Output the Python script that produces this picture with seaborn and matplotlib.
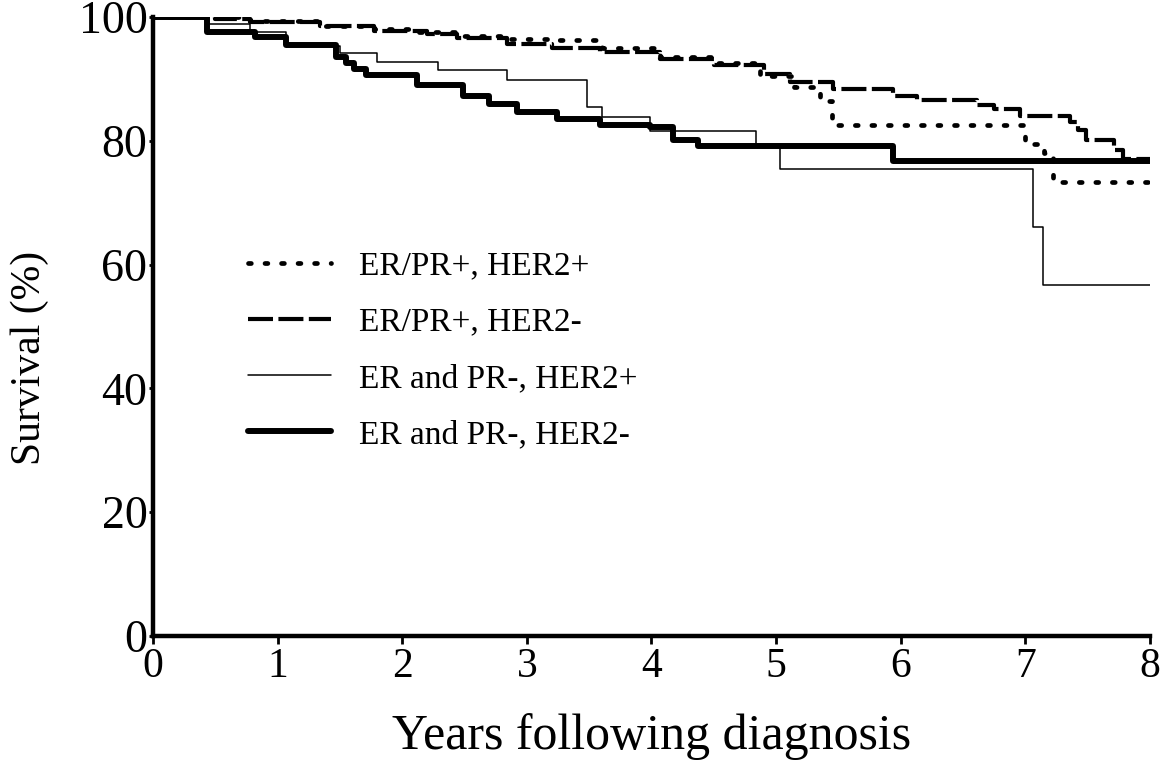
import numpy as np
import pandas as pd
import matplotlib
matplotlib.use("Agg")
import matplotlib.pyplot as plt
import seaborn as sns

# ---- data (Kaplan-Meier step values) ----
labels = ["ER/PR+, HER2+", "ER/PR+, HER2-", "ER and PR-, HER2+", "ER and PR-, HER2-"]

t_pp = [0, 0.78, 1.34, 1.77, 2.10, 2.44, 2.84, 3.20, 3.60, 4.07, 4.50, 4.87, 5.14, 5.35, 5.45, 7.00, 7.15, 7.22, 8.0]
s_pp = [100, 99.3, 98.6, 98.0, 97.6, 97.0, 96.5, 96.3, 95.0, 93.5, 92.5, 90.5, 88.7, 86.5, 82.6, 79.5, 78.0, 73.3, 73.3]

t_pn = [0, 0.50, 0.78, 1.34, 1.77, 2.20, 2.44, 2.84, 3.20, 3.59, 4.07, 4.50, 4.90, 5.11, 5.46, 5.94, 6.13, 6.61, 6.75, 6.96, 7.36, 7.42, 7.49, 7.71, 7.78, 8.0]
s_pn = [100, 99.6, 99.2, 98.5, 97.8, 97.2, 96.6, 95.6, 95.0, 94.3, 93.2, 92.3, 90.8, 89.5, 88.3, 87.2, 86.6, 85.8, 85.2, 84.0, 83.0, 81.8, 80.2, 78.5, 77.0, 77.0]

t_np = [0, 0.43, 0.78, 1.07, 1.50, 1.80, 2.29, 2.84, 3.48, 3.60, 3.99, 4.84, 5.03, 7.06, 7.14, 8.0]
s_np = [100, 98.8, 97.6, 95.3, 94.2, 92.8, 91.4, 89.8, 85.5, 83.9, 81.6, 79.3, 75.5, 66.0, 56.7, 56.7]

t_nn = [0, 0.43, 0.82, 1.07, 1.47, 1.55, 1.61, 1.71, 2.12, 2.49, 2.70, 2.92, 3.24, 3.59, 3.99, 4.17, 4.37, 5.94, 8.0]
s_nn = [100, 97.6, 96.8, 95.4, 93.6, 92.5, 91.6, 90.6, 89.0, 87.3, 86.0, 84.6, 83.5, 82.6, 82.2, 80.2, 79.2, 76.8, 76.8]

x_ticks = [0, 1, 2, 3, 4, 5, 6, 7, 8]
y_ticks = [0, 20, 40, 60, 80, 100]

# ---- style ----
sns.set_style("ticks")
plt.rcParams["font.family"] = ["Liberation Serif", "DejaVu Serif"]
plt.rcParams["text.color"] = "black"
plt.rcParams["axes.labelcolor"] = "black"
plt.rcParams["xtick.color"] = "black"
plt.rcParams["ytick.color"] = "black"

fig = plt.figure(figsize=(11.61, 7.63), dpi=100)
ax = fig.add_axes([0.1318, 0.1664, 0.8587, 0.8113])

series = [
    (t_pp, s_pp, dict(lw=3.4, ls=(0, (0.6, 2.9)), dash_capstyle="round")),
    (t_pn, s_pn, dict(lw=3.0, ls=(0, (6.0, 1.3)), dash_capstyle="butt")),
    (t_np, s_np, dict(lw=1.1, ls="-")),
    (t_nn, s_nn, dict(lw=4.3, ls="-")),
]
for (t, s, st), lab in zip(series, labels):
    df = pd.DataFrame({"t": t, "s": s})
    extra = {"dash_capstyle": st["dash_capstyle"]} if "dash_capstyle" in st else {}
    sns.lineplot(data=df, x="t", y="s", ax=ax, color="black", drawstyle="steps-post",
                 estimator=None, sort=False, label=lab, linewidth=st["lw"],
                 linestyle=st["ls"], **extra)

ax.set_xlim(0, 8)
ax.set_ylim(0, 100)
ax.set_xticks(x_ticks)
ax.set_yticks(y_ticks)
ax.set_xticklabels([str(v) for v in x_ticks], fontsize=30)
ax.set_yticklabels([str(v) for v in y_ticks], fontsize=33)
ax.tick_params(axis="x", direction="out", length=6, width=2, pad=2, colors="black")
ax.tick_params(axis="y", direction="out", length=3, width=2, pad=1, colors="black")
for side in ["top", "right"]:
    ax.spines[side].set_visible(False)
for side in ["left", "bottom"]:
    ax.spines[side].set_linewidth(3.2)
    ax.spines[side].set_color("black")

ax.set_xlabel("Years following diagnosis", fontsize=36, labelpad=20, color="black")
ax.set_ylabel("Survival (%)", fontsize=30, color="black")
ax.yaxis.set_label_coords(-0.104, 0.45)

leg = ax.legend(loc="upper left", bbox_to_anchor=(0.095, 0.622), frameon=False,
                fontsize=24, handlelength=2.5, handletextpad=0.85, labelspacing=0.77,
                borderpad=0, borderaxespad=0)
for txt in leg.get_texts():
    txt.set_color("black")

fig.savefig("out.png", dpi=100, facecolor="white")
